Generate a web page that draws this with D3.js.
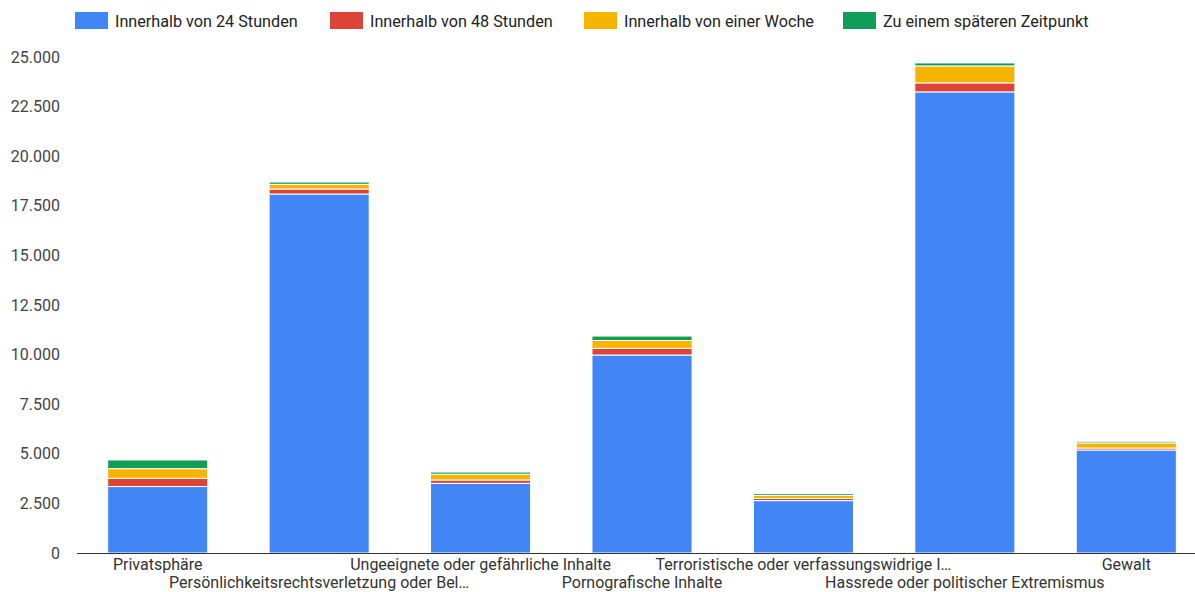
<!DOCTYPE html>
<html><head><meta charset="utf-8">
<script src="https://cdn.jsdelivr.net/npm/d3@7/dist/d3.min.js"></script>
<style>
html,body{margin:0;padding:0;background:#fff;overflow:hidden}
text{font-family:Roboto,"Noto Sans",sans-serif}
</style></head>
<body><svg id="c" width="1195" height="592"></svg>
<script>
const categories = ["Privatsphäre","Persönlichkeitsrechtsverletzung oder Bel…","Ungeeignete oder gefährliche Inhalte","Pornografische Inhalte","Terroristische oder verfassungswidrige I…","Hassrede oder politischer Extremismus","Gewalt"];
const seriesNames = ["Innerhalb von 24 Stunden","Innerhalb von 48 Stunden","Innerhalb von einer Woche","Zu einem späteren Zeitpunkt"];
const within24h = [3350,18095,3510,9980,2640,23240,5190];
const within48h = [415,250,170,335,110,455,100];
const withinWeek = [485,237,290,395,150,855,260];
const later = [440,116,110,225,90,150,80];
const yTicks = [0,2500,5000,7500,10000,12500,15000,17500,20000,22500,25000];
const colors = ["#4285F4","#DB4437","#F4B400","#0F9D58"];

const svg = d3.select("#c");
const rows = categories.map((c,i)=>({cat:c, s0:within24h[i], s1:within48h[i], s2:withinWeek[i], s3:later[i]}));
const stack = d3.stack().keys(["s0","s1","s2","s3"])(rows);

const x = d3.scaleBand().domain(categories).range([77,1207]).paddingInner(0.38).paddingOuter(0.19);
const y = d3.scaleLinear().domain([0,25000]).range([553,57]);
const fmt = d3.formatLocale({decimal:",",thousands:".",grouping:[3],currency:["","€"]}).format(",");

// y axis labels
const ya = svg.append("g").attr("transform","translate(60,0)")
  .call(d3.axisLeft(y).tickValues(yTicks).tickFormat(fmt).tickSize(0).tickPadding(0));
ya.select(".domain").remove();
ya.selectAll("text").attr("font-size",16).attr("fill","#444").attr("font-family","Roboto");

// bars
svg.append("g").selectAll("g").data(stack).join("g").attr("fill",(d,i)=>colors[i])
  .selectAll("rect").data(d=>d).join("rect")
  .attr("x",d=>x(d.data.cat)).attr("width",x.bandwidth())
  .attr("y",d=>y(d[1])).attr("height",d=>Math.max(0,y(d[0])-y(d[1])))
  .attr("stroke","#fff").attr("stroke-width",1);

// baseline
svg.append("line").attr("x1",77).attr("x2",1195).attr("y1",y(0)+0.5).attr("y2",y(0)+0.5)
  .attr("stroke","#333").attr("stroke-width",1);

// x labels (alternating rows)
svg.append("g").selectAll("text").data(categories).join("text")
  .attr("x",d=>x(d)+x.bandwidth()/2)
  .attr("y",(d,i)=> i%2===0 ? 570 : 588)
  .attr("text-anchor","middle").attr("font-size",16).attr("fill","#333")
  .text(d=>d);

// legend
const legX = [75,330,584,843];
const lg = svg.append("g").selectAll("g").data(seriesNames).join("g")
  .attr("transform",(d,i)=>`translate(${legX[i]},0)`);
lg.append("rect").attr("x",0).attr("y",12).attr("width",33).attr("height",17).attr("fill",(d,i)=>colors[i]);
lg.append("text").attr("x",40).attr("y",26.5).attr("font-size",16.2).attr("fill","#222").text(d=>d);
</script></body></html>
